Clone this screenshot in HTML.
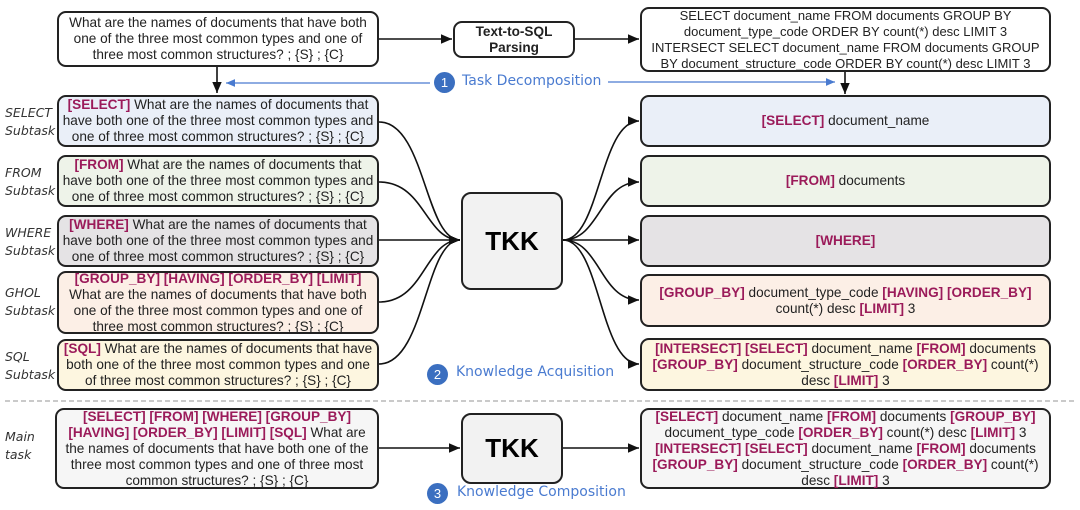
<!DOCTYPE html>
<html><head><meta charset="utf-8"><style>
body{margin:0;width:1080px;height:510px;background:#fff;position:relative;overflow:hidden;font-family:"Liberation Sans",Arial,sans-serif;}
.b{position:absolute;box-sizing:border-box;border:2px solid #222;border-radius:9px;display:flex;align-items:center;justify-content:center;text-align:center;font-size:13.6px;line-height:16px;color:#222;padding:0 2px;white-space:nowrap;}
.k{color:#9b1b5a;font-weight:bold;}
.lab{position:absolute;left:5px;font-style:italic;line-height:18px;color:#333;font-family:"DejaVu Sans","Liberation Sans",sans-serif;font-size:12.5px}
.tkk{position:absolute;box-sizing:border-box;border:2px solid #222;border-radius:10px;background:#f2f2f2;display:flex;align-items:center;justify-content:center;font-weight:bold;font-size:26px;}
.c{position:absolute;width:21px;height:21px;border-radius:50%;background:#3b6fc0;color:#fff;font-size:13px;line-height:21px;text-align:center;}
.bt{position:absolute;color:#4a7bd0;font-family:"DejaVu Sans","Liberation Sans",sans-serif;font-size:14px}
svg{position:absolute;left:0;top:0}
</style></head><body>
<svg width="1080" height="510">
<defs><marker id="a" markerWidth="8" markerHeight="8" refX="7" refY="4" orient="auto"><path d="M0,1 L7,4 L0,7z" fill="#111"/></marker>
<marker id="bl" markerWidth="8" markerHeight="8" refX="7" refY="4" orient="auto"><path d="M0,1 L7,4 L0,7z" fill="#4a7bd0"/></marker></defs>
<g stroke="#111" stroke-width="1.6" fill="none" marker-end="url(#a)">
<line x1="379" y1="39" x2="452" y2="39"/>
<line x1="575" y1="39" x2="639" y2="39"/>
<line x1="217" y1="67" x2="217" y2="93"/>
<line x1="845" y1="72" x2="845" y2="94"/>
<path d="M379,122 C425,122 425,240 460,240"/>
<path d="M379,182 C425,182 425,240 460,240"/>
<path d="M379,240 L460,240"/>
<path d="M379,302 C425,302 425,240 460,240"/>
<path d="M379,364 C425,364 425,240 460,240"/>
<path d="M563,240 C600,240 600,121 639,121"/>
<path d="M563,240 C600,240 600,182 639,182"/>
<path d="M563,240 L639,240"/>
<path d="M563,240 C600,240 600,300 639,300"/>
<path d="M563,240 C600,240 600,364 639,364"/>
<line x1="379" y1="448" x2="460" y2="448"/>
<line x1="563" y1="448" x2="639" y2="448"/>
</g>
<g stroke="#4a7bd0" stroke-width="1.3" marker-end="url(#bl)">
<line x1="430" y1="83" x2="226" y2="83"/>
<line x1="608" y1="82" x2="835" y2="82"/>
</g>
<line x1="5" y1="401" x2="1075" y2="401" stroke="#aaa" stroke-width="1.3" stroke-dasharray="5,3"/>
</svg>
<div class="b" style="left:57px;top:11px;width:322px;height:56px;background:#fff">What are the names of documents that have both<br>one of the three most common types and one of<br>three most common structures? ; {S} ; {C}</div>
<div class="b" style="left:453px;top:21px;width:122px;height:37px;font-weight:bold;background:#fff;white-space:normal">Text-to-SQL Parsing</div>
<div class="b" style="left:640px;top:7px;width:411px;height:65px;background:#fff;font-size:13px">SELECT document_name FROM documents GROUP BY<br>document_type_code ORDER BY count(*) desc LIMIT 3<br>INTERSECT SELECT document_name FROM documents GROUP<br>BY document_structure_code ORDER BY count(*) desc LIMIT 3</div>
<div class="c" style="left:434px;top:72px">1</div><div class="bt" style="left:462px;top:73px">Task Decomposition</div>

<div class="lab" style="top:104px">SELECT<br>Subtask</div>
<div class="lab" style="top:164px">FROM<br>Subtask</div>
<div class="lab" style="top:224px">WHERE<br>Subtask</div>
<div class="lab" style="top:284px">GHOL<br>Subtask</div>
<div class="lab" style="top:348px">SQL<br>Subtask</div>
<div class="lab" style="top:428px">Main<br>task</div>

<div class="b" style="left:57px;top:95px;width:322px;height:52px;background:#eaeff8"><span><span class="k">[SELECT]</span> What are the names of documents that<br>have both one of the three most common types and<br>one of three most common structures? ; {S} ; {C}</span></div>
<div class="b" style="left:57px;top:155px;width:322px;height:52px;background:#eef3e9"><span><span class="k">[FROM]</span> What are the names of documents that<br>have both one of the three most common types and<br>one of three most common structures? ; {S} ; {C}</span></div>
<div class="b" style="left:57px;top:215px;width:322px;height:52px;background:#e5e3e5"><span><span class="k">[WHERE]</span> What are the names of documents that<br>have both one of the three most common types and<br>one of three most common structures? ; {S} ; {C}</span></div>
<div class="b" style="left:57px;top:271px;width:322px;height:63px;background:#fcefe6"><span><span class="k">[GROUP_BY] [HAVING] [ORDER_BY] [LIMIT]</span><br>What are the names of documents that have both<br>one of the three most common types and one of<br>three most common structures? ; {S} ; {C}</span></div>
<div class="b" style="left:57px;top:339px;width:322px;height:52px;background:#fdf6e0"><span><span class="k">[SQL]</span> What are the names of documents that have<br>both one of the three most common types and one<br>of three most common structures? ; {S} ; {C}</span></div>
<div class="b" style="left:55px;top:408px;width:324px;height:81px;background:#f6f6f6"><span><span class="k">[SELECT] [FROM] [WHERE] [GROUP_BY]</span><br><span class="k">[HAVING] [ORDER_BY] [LIMIT] [SQL]</span> What are<br>the names of documents that have both one of the<br>three most common types and one of three most<br>common structures? ; {S} ; {C}</span></div>

<div class="tkk" style="left:461px;top:192px;width:102px;height:98px">TKK</div>
<div class="tkk" style="left:461px;top:413px;width:102px;height:71px">TKK</div>

<div class="b" style="left:640px;top:95px;width:411px;height:52px;background:#eaeff8"><span><span class="k">[SELECT]</span> document_name</span></div>
<div class="b" style="left:640px;top:155px;width:411px;height:52px;background:#eef3e9"><span><span class="k">[FROM]</span> documents</span></div>
<div class="b" style="left:640px;top:215px;width:411px;height:52px;background:#e5e3e5"><span class="k">[WHERE]</span></div>
<div class="b" style="left:640px;top:274px;width:411px;height:53px;background:#fcefe6"><span><span class="k">[GROUP_BY]</span> document_type_code <span class="k">[HAVING]</span> <span class="k">[ORDER_BY]</span><br>count(*) desc <span class="k">[LIMIT]</span> 3</span></div>
<div class="b" style="left:640px;top:338px;width:411px;height:53px;background:#fdf6e0"><span><span class="k">[INTERSECT]</span> <span class="k">[SELECT]</span> document_name <span class="k">[FROM]</span> documents<br><span class="k">[GROUP_BY]</span> document_structure_code <span class="k">[ORDER_BY]</span> count(*)<br>desc <span class="k">[LIMIT]</span> 3</span></div>
<div class="b" style="left:640px;top:408px;width:411px;height:81px;background:#f6f6f6"><span><span class="k">[SELECT]</span> document_name <span class="k">[FROM]</span> documents <span class="k">[GROUP_BY]</span><br>document_type_code <span class="k">[ORDER_BY]</span> count(*) desc <span class="k">[LIMIT]</span> 3<br><span class="k">[INTERSECT]</span> <span class="k">[SELECT]</span> document_name <span class="k">[FROM]</span> documents<br><span class="k">[GROUP_BY]</span> document_structure_code <span class="k">[ORDER_BY]</span> count(*)<br>desc <span class="k">[LIMIT]</span> 3</span></div>

<div class="c" style="left:427px;top:364px">2</div><div class="bt" style="left:456px;top:364px">Knowledge Acquisition</div>
<div class="c" style="left:427px;top:483px">3</div><div class="bt" style="left:457px;top:484px">Knowledge Composition</div>
</body></html>
